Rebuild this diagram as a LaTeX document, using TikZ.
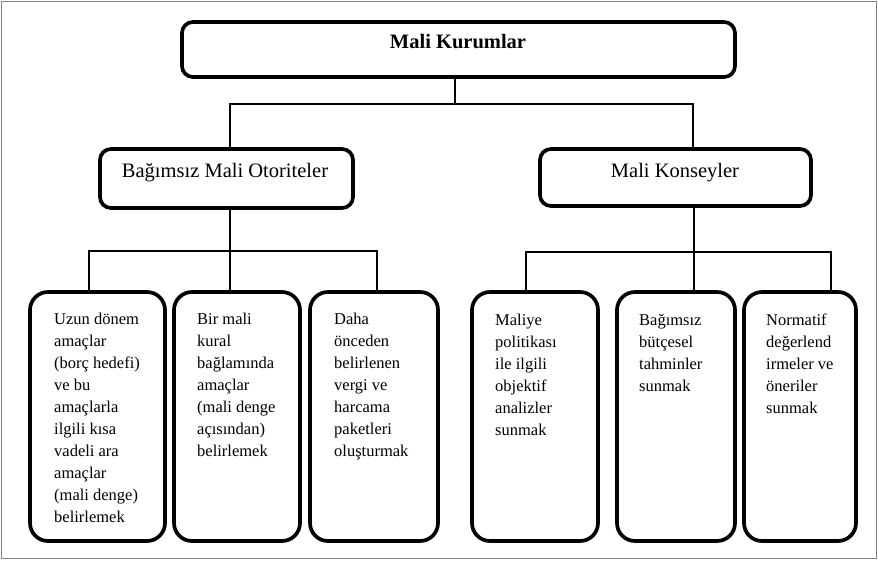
\documentclass[tikz,border=0pt]{standalone}
\usepackage{fontspec}
\setmainfont{Liberation Serif}
\begin{document}
\begin{tikzpicture}[x=1pt,y=-1pt,
  box/.style={draw=black, line width=3.7pt, rounded corners=11pt, inner sep=0pt},
  leaf/.style={draw=black, line width=3.7pt, rounded corners=18pt, minimum height=249pt, inner sep=0pt},
  conn/.style={line width=1.3pt},
  lbl/.style={inner sep=0pt, font=\fontsize{20.5}{24}\selectfont},
  lt/.style={anchor=north west, inner sep=0pt, align=left, font=\fontsize{16.5}{22}\selectfont}]
\useasboundingbox (0,0) rectangle (878,560);
\draw[gray, line width=0.8pt] (1.5,1.5) rectangle (876.5,558.5);

% top level
\node[box, minimum width=553pt, minimum height=55pt] (top) at (458.5,49.5) {};
\node[lbl, font=\fontsize{20.5}{24}\selectfont\bfseries] (toplbl) at (458,42) {Mali Kurumlar};

% second level
\node[box, minimum width=253pt, minimum height=59pt] (ba) at (226.5,178.5) {};
\node[lbl] (balbl) at (225,173) {Bağımsız Mali Otoriteler};
\node[box, minimum width=271pt, minimum height=57pt] (mk) at (675.5,177.5) {};
\node[lbl] (mklbl) at (675,173) {Mali Konseyler};

% leaves
\node[leaf, minimum width=135pt] (l1) at (97.5,416.5) {};
\node[leaf, minimum width=126pt] (l2) at (237,416.5) {};
\node[leaf, minimum width=128pt] (l3) at (374,416.5) {};
\node[leaf, minimum width=126pt] (r1) at (535,416.5) {};
\node[leaf, minimum width=118pt] (r2) at (676,416.5) {};
\node[leaf, minimum width=112pt] (r3) at (800,416.5) {};

\node[lt] (t1) at (54,313) {Uzun dönem\\amaçlar\\(borç hedefi)\\ve bu\\amaçlarla\\ilgili kısa\\vadeli ara\\amaçlar\\(mali denge)\\belirlemek};
\node[lt] (t2) at (197,313) {Bir mali\\kural\\bağlamında\\amaçlar\\(mali denge\\açısından)\\belirlemek};
\node[lt] (t3) at (334,313) {Daha\\önceden\\belirlenen\\vergi ve\\harcama\\paketleri\\oluşturmak};
\node[lt] (t4) at (495,314) {Maliye\\politikası\\ile ilgili\\objektif\\analizler\\sunmak};
\node[lt] (t5) at (639,314) {Bağımsız\\bütçesel\\tahminler\\sunmak};
\node[lt] (t6) at (766,314) {Normatif\\değerlend\\irmeler ve\\öneriler\\sunmak};

% connectors top
\coordinate (j1) at (455,104);
\coordinate (bL) at (230,104);
\coordinate (bR) at (693,104);
\draw[conn] (top.south -| j1) -- (j1);
\draw[conn] (bL |- ba.north) -- (bL) -- (bR) -- (bR |- mk.north);

% connectors left group
\coordinate (c1) at (89,251);
\coordinate (c2) at (230,251);
\coordinate (c3) at (377,251);
\draw[conn] (ba.south -| c2) -- (c2) -- (c2 |- l2.north);
\draw[conn] (c1 |- l1.north) -- (c1) -- (c3) -- (c3 |- l3.north);

% connectors right group
\coordinate (d1) at (526,252);
\coordinate (d2) at (694,252);
\coordinate (d3) at (831,252);
\draw[conn] (mk.south -| d2) -- (d2) -- (d2 |- r2.north);
\draw[conn] (d1 |- r1.north) -- (d1) -- (d3) -- (d3 |- r3.north);
\end{tikzpicture}
\end{document}
